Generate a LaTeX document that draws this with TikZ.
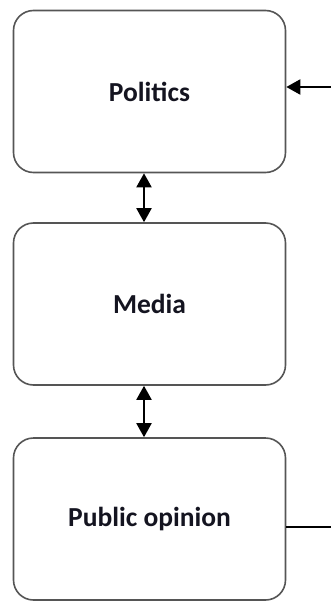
\documentclass[tikz,border=0pt]{standalone}
\usepackage{fontspec}
\setmainfont{Carlito}
\usetikzlibrary{arrows.meta}
\definecolor{boxline}{HTML}{555555}
\definecolor{txt}{HTML}{141420}
\begin{document}
\begin{tikzpicture}[x=1pt,y=-1pt,
  box/.style={draw=boxline, line width=1.6pt, rounded corners=20pt, minimum width=272pt, minimum height=162pt, inner sep=0pt, font=\fontsize{27.5}{32}\selectfont\bfseries, text=txt},
  conn/.style={line width=2pt, black},
  tip/.style={-{Triangle[length=14pt,width=15pt]}},
  dtip/.style={{Triangle[length=14pt,width=15pt]}-{Triangle[length=14pt,width=15pt]}}]
\useasboundingbox (0,0) rectangle (331,602);
\node[box] (pol) at (149.5,91.5) {Politics};
\node[box] (med) at (149.5,304) {Media};
\node[box] (pub) at (149.5,519) {Public opinion};
\coordinate (fin) at (331,87);
\coordinate (fout) at (331,527);
\draw[conn,dtip] ([xshift=-5.5pt]pol.south) -- ([xshift=-5.5pt]med.north);
\draw[conn,dtip] ([xshift=-5.5pt]med.south) -- ([xshift=-5.5pt]pub.north);
\draw[conn,tip] (fin) -- (pol.east |- fin);
\draw[conn] (pub.east |- fout) -- (fout);
\end{tikzpicture}
\end{document}
